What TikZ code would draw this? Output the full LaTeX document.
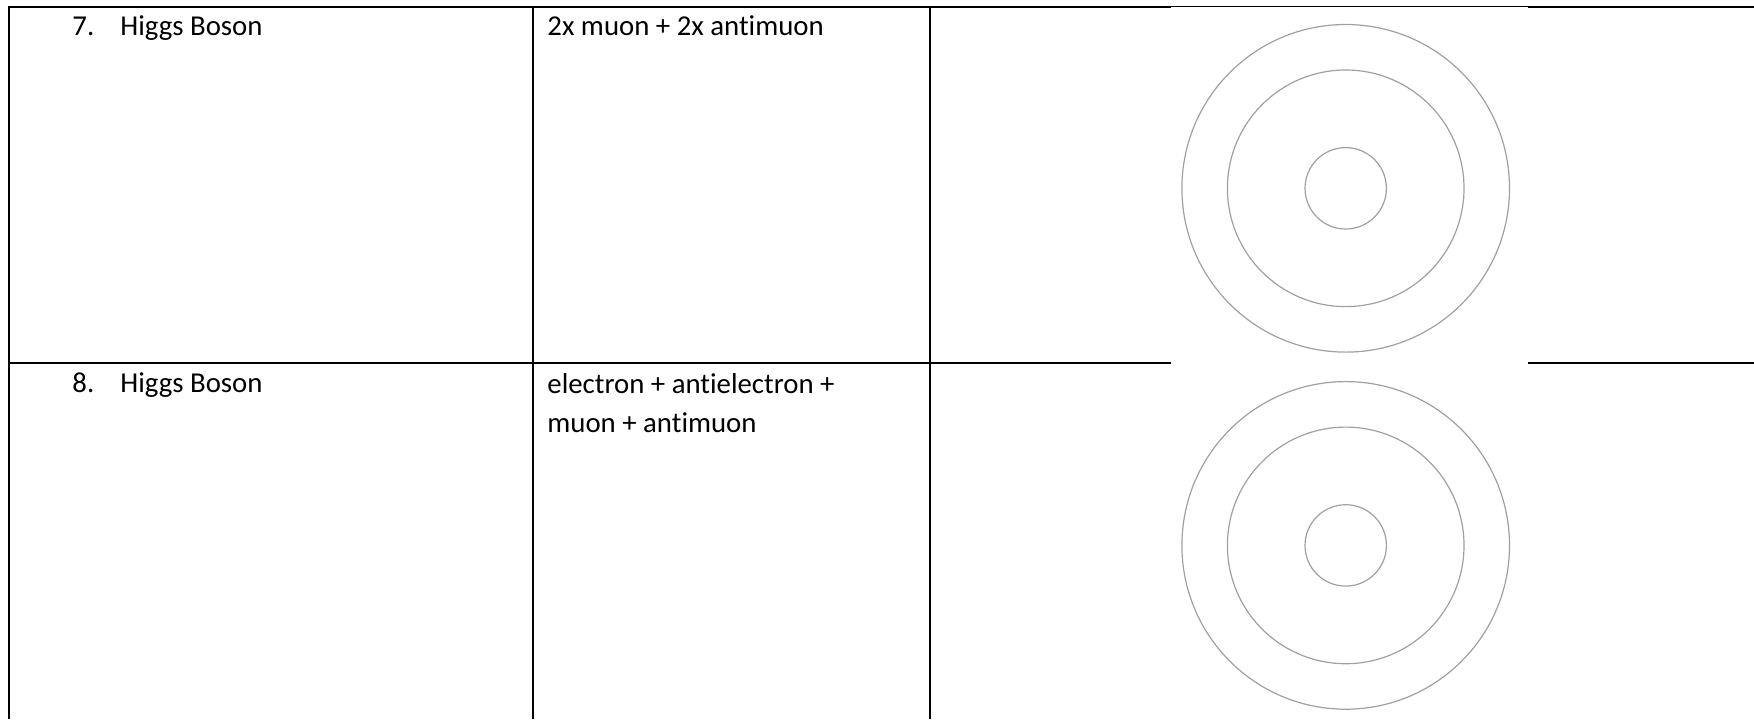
\documentclass[tikz,border=0pt]{standalone}
\usepackage{fontspec}
\setmainfont{Carlito}[Ligatures=NoCommon]
\usepackage{tikz}
\usetikzlibrary{positioning}
\usepackage{xcolor}
\definecolor{ringgray}{RGB}{160,160,160}

\begin{document}
\begin{tikzpicture}[
    x=0.5pt, y=-0.5pt,
    rule/.style={draw=black, line width=1pt},
    thinrule/.style={draw=black, line width=0.5pt},
    ring/.style={draw=ringgray, line width=0.6pt},
    cell/.style={anchor=base west, inner sep=0pt, align=left, font=\fontsize{14.4}{19.7}\selectfont}
]
\useasboundingbox (0,0) rectangle (1754,719);

% Table rules
\draw[rule] (8.5,6.5) -- (8.5,719);
\draw[rule] (533,6.5) -- (533,719);
\draw[rule] (930,6.5) -- (930,719);
\draw[rule] (8,6.5) -- (1171,6.5);
\draw[thinrule] (1171,6.3) -- (1528,6.3);
\draw[rule] (1528,6.5) -- (1754,6.5);
\draw[rule] (8,363.3) -- (1171,363.3);
\draw[rule] (1528,363.3) -- (1754,363.3);

% Row 7
\node[cell] (num7) at (72,35.7) {7.};
\node[cell] (name7) at (120,35.7) {Higgs Boson};
\node[cell] (decay7) at (547,35.7) {2x muon + 2x antimuon};

% Row 8 (base of a two-line cell is its last line)
\node[cell] (num8) at (72,392.5) {8.};
\node[cell] (name8) at (120,392.5) {Higgs Boson};
\node[cell] (decay8) at (547,432.7) {electron + antielectron +\\muon + antimuon};

% Detector rings
\foreach \cy in {188.3, 545.4} {
  \draw[ring] (1345.7,\cy) circle (81.9pt);
  \draw[ring] (1345.7,\cy) circle (59.15pt);
  \draw[ring] (1345.7,\cy) circle (20.35pt);
}

\end{tikzpicture}
\end{document}
